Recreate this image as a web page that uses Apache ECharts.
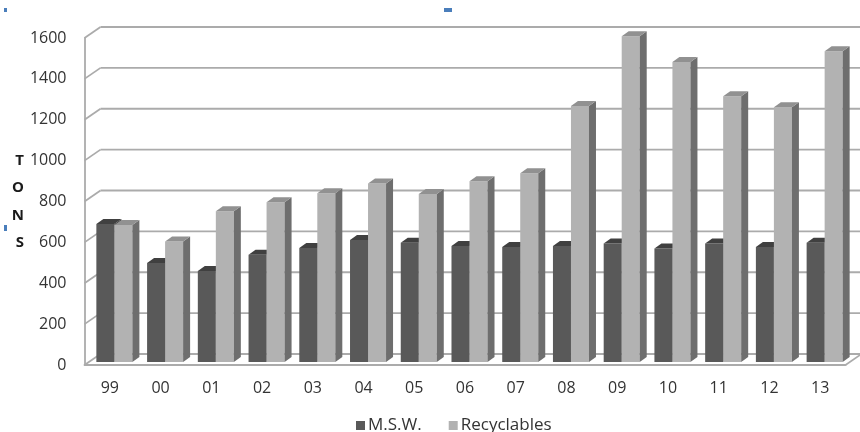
<!DOCTYPE html>
<html>
<head>
<meta charset="utf-8">
<script src="https://cdn.jsdelivr.net/npm/echarts@6/dist/echarts.min.js"></script>
<style>
  html, body { margin: 0; padding: 0; background: #ffffff; }
  #chart { width: 860px; height: 432px; }
</style>
</head>
<body>
<div id="chart"></div>
<script>
// Annual tonnage by year
const years = ['99', '00', '01', '02', '03', '04', '05', '06', '07', '08', '09', '10', '11', '12', '13'];
const msw = [675, 485, 445, 525, 558, 597, 583, 567, 563, 567, 580, 555, 580, 563, 583];
const recyclables = [670, 590, 738, 782, 826, 874, 822, 884, 924, 1252, 1594, 1468, 1300, 1246, 1520];
const yTicks = [0, 200, 400, 600, 800, 1000, 1200, 1400, 1600];

// Pseudo-3D geometry (pixels): wall depth, bar plane shift, bar depth
const WALL = [16, -11];
const SHIFT = [4.5, -3];
const DEPTH = [7, -5];
const WALL_COLOR = '#ababab';
const FONT = "'Open Sans', 'Liberation Sans', sans-serif";
const TEXT_COLOR = '#333333';

function barRenderer(side, faceColor, sideColor, topColor) {
  return function (params, api) {
    const i = api.value(0);
    const v = api.value(1);
    const base = api.coord([i, 0]);
    const top = api.coord([i, v]);
    const band = api.size([1, 0])[0];
    const w = band * 0.355;
    const x0 = base[0] + SHIFT[0] + (side < 0 ? -w : 0);
    const yb = base[1] + SHIFT[1];
    const yt = top[1] + SHIFT[1];
    const dx = DEPTH[0], dy = DEPTH[1];
    return {
      type: 'group',
      children: [
        { type: 'rect', shape: { x: x0, y: yt, width: w, height: yb - yt }, style: { fill: faceColor } },
        { type: 'polygon', shape: { points: [[x0 + w, yt], [x0 + w + dx, yt + dy], [x0 + w + dx, yb + dy], [x0 + w, yb]] }, style: { fill: sideColor } },
        { type: 'polygon', shape: { points: [[x0, yt], [x0 + dx, yt + dy], [x0 + w + dx, yt + dy], [x0 + w, yt]] }, style: { fill: topColor } }
      ]
    };
  };
}

// Back wall, side wall and floor edges for each value tick
function wallRenderer(params, api) {
  const cs = params.coordSys;
  const v = api.value(1);
  const y = api.coord([0, v])[1];
  const xl = cs.x, xr = cs.x + cs.width;
  const style = { stroke: WALL_COLOR, lineWidth: 1.8 };
  const children = [
    { type: 'line', shape: { x1: xl, y1: y, x2: xl + WALL[0], y2: y + WALL[1] }, style: style },
    { type: 'line', shape: { x1: xl + WALL[0], y1: y + WALL[1], x2: xr + WALL[0] + 2, y2: y + WALL[1] }, style: style }
  ];
  if (v === 0) {
    children.push({ type: 'line', shape: { x1: xr, y1: y, x2: xr + WALL[0], y2: y + WALL[1] }, style: style });
  }
  return { type: 'group', children: children };
}

const chart = echarts.init(document.getElementById('chart'), null, { renderer: 'canvas' });
chart.setOption({
  animation: false,
  backgroundColor: '#ffffff',
  grid: { left: 84.5, right: 14.5, top: 38, bottom: 67 },
  legend: {
    left: 351,
    top: 412,
    icon: 'rect',
    itemWidth: 9,
    itemHeight: 9,
    itemGap: 27,
    textStyle: { fontFamily: FONT, fontSize: 17, color: TEXT_COLOR, padding: [0, 0, 0, -2] },
    data: ['M.S.W.', 'Recyclables']
  },
  xAxis: {
    type: 'category',
    data: years,
    axisLine: { show: true, lineStyle: { color: WALL_COLOR, width: 1.8 } },
    axisTick: { show: false },
    axisLabel: { margin: 15, fontFamily: FONT, fontSize: 16, color: TEXT_COLOR },
    splitLine: { show: false }
  },
  yAxis: {
    type: 'value',
    min: 0,
    max: 1600,
    interval: 200,
    name: 'T\nO\nN\nS',
    nameLocation: 'middle',
    nameRotate: 0,
    nameGap: 59,
    nameTextStyle: {
      fontFamily: FONT, fontWeight: 'bold', fontSize: 15, lineHeight: 27.5,
      color: '#1a1a1a', align: 'right', padding: [5, 0, 0, 0]
    },
    axisLine: { show: true, lineStyle: { color: WALL_COLOR, width: 1.8 } },
    axisTick: { show: false },
    axisLabel: {
      margin: 18, fontFamily: FONT, fontSize: 16, color: TEXT_COLOR,
      formatter: function (v) { return String(v); }
    },
    splitLine: { show: false }
  },
  graphic: [
    { type: 'rect', shape: { x: 4, y: 8, width: 3, height: 4 }, style: { fill: '#4a7ebb' } },
    { type: 'rect', shape: { x: 444, y: 8, width: 8, height: 4 }, style: { fill: '#4a7ebb' } },
    { type: 'rect', shape: { x: 4, y: 225, width: 3, height: 6 }, style: { fill: '#4a7ebb' } }
  ],
  series: [
    {
      type: 'custom',
      name: 'walls',
      silent: true,
      z: 1,
      data: yTicks.map(function (v) { return [0, v]; }),
      encode: { x: 0, y: 1 },
      renderItem: wallRenderer
    },
    {
      type: 'custom',
      name: 'M.S.W.',
      z: 2,
      itemStyle: { color: '#595959' },
      data: msw.map(function (v, i) { return [i, v]; }),
      encode: { x: 0, y: 1 },
      renderItem: barRenderer(-1, '#595959', '#3c3c3c', '#404040')
    },
    {
      type: 'custom',
      name: 'Recyclables',
      z: 3,
      itemStyle: { color: '#b2b2b2' },
      data: recyclables.map(function (v, i) { return [i, v]; }),
      encode: { x: 0, y: 1 },
      renderItem: barRenderer(1, '#b2b2b2', '#6e6e6e', '#919191')
    }
  ]
});
</script>
</body>
</html>
